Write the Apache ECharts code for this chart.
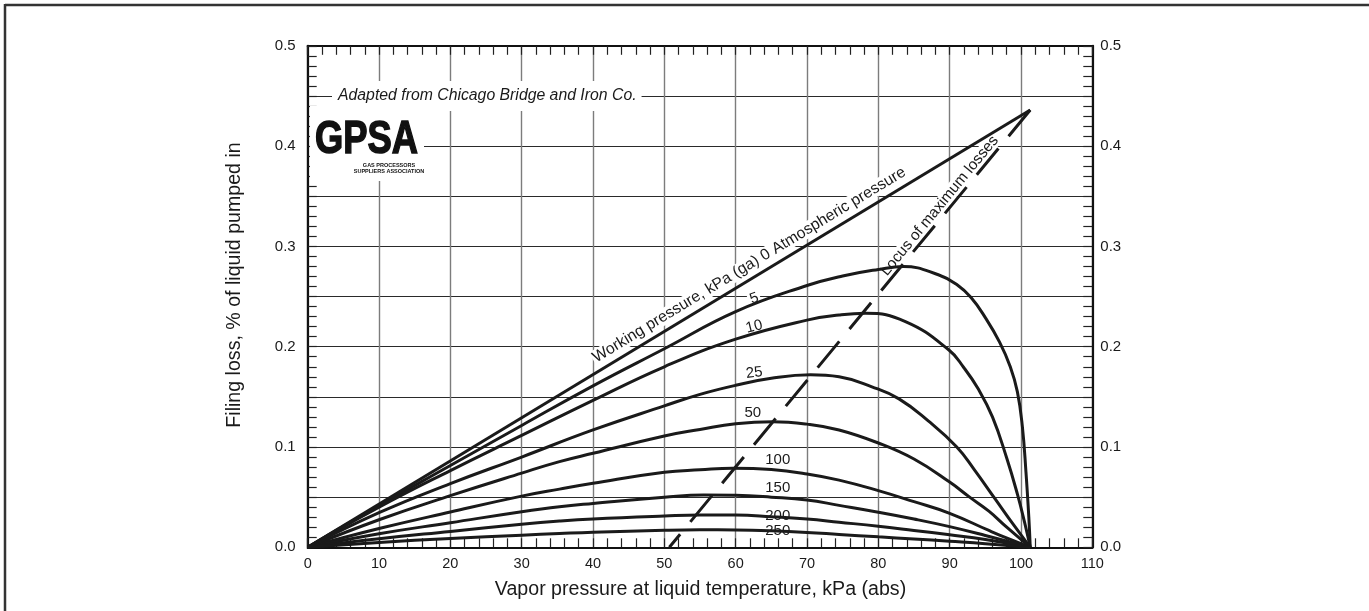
<!DOCTYPE html>
<html><head><meta charset="utf-8">
<script src="https://cdn.jsdelivr.net/npm/echarts@6/dist/echarts.min.js"></script>
<style>html,body{margin:0;padding:0;background:#fff}#c{width:1369px;height:611px}</style>
</head><body><div id="c"></div>
<script>
// ---- data ----
const atmospheric = [[0,0],[101.3,0.436]];
const locus = [[50.7,0],[101.3,0.436]];
const curve5 = [[0,0],[10,0.0415],[20,0.0815],[30,0.1215],[40,0.161],[50,0.198],[60,0.235],[70,0.261],[75,0.2705],[80,0.277],[83.5,0.280],[88.5,0.2715],[91,0.262],[93,0.249],[95,0.229],[97,0.2045],[98.5,0.180],[99.5,0.155],[100.2,0.120],[100.7,0.075],[101.1,0.030],[101.3,0]];
const curve10 = [[0,0],[10,0.040],[20,0.0765],[30,0.1115],[40,0.1465],[50,0.180],[60,0.2075],[70,0.2265],[74.5,0.2315],[78.2,0.2333],[83.8,0.225],[89.9,0.1967],[92,0.179],[94,0.158],[96,0.130],[98,0.089],[99.5,0.053],[100.5,0.025],[101.3,0]];
const curve25 = [[0,0],[10,0.0345],[20,0.0635],[30,0.090],[40,0.117],[50,0.141],[55,0.1525],[60,0.1615],[65,0.1685],[70.5,0.172],[74.5,0.170],[79.1,0.160],[82.9,0.148],[87,0.126],[91.0,0.100],[93.5,0.077],[96.4,0.048],[99.0,0.022],[101.3,0]];
const curve50 = [[0,0],[10,0.0275],[20,0.0515],[30,0.0740],[35.3,0.0854],[40,0.0937],[50,0.111],[55,0.1175],[60,0.1232],[65.2,0.1252],[70,0.1228],[74.5,0.117],[80,0.104],[85,0.088],[90,0.065],[92.8,0.050],[95.5,0.036],[98,0.020],[101.3,0]];
const curve100 = [[0,0],[10,0.0187],[20,0.0352],[30,0.051],[35.3,0.058],[40,0.0638],[50,0.0748],[55,0.0772],[59.6,0.0788],[65,0.0775],[70,0.0731],[74.5,0.067],[80,0.0565],[85,0.0455],[90,0.0339],[95.5,0.0168],[98.5,0.0078],[101.3,0]];
const curve150 = [[0,0],[10,0.0135],[20,0.0245],[30,0.0355],[35.3,0.0405],[40,0.0437],[50,0.0498],[55.5,0.0521],[60,0.0518],[65,0.050],[70,0.0472],[74.5,0.0418],[80,0.0350],[85,0.0282],[90,0.0206],[95,0.0118],[101.3,0]];
const curve200 = [[0,0],[10,0.0085],[20,0.0158],[30,0.023],[35.3,0.0262],[40,0.0283],[50,0.0312],[55,0.0322],[60,0.0321],[65,0.0305],[70,0.0282],[74.5,0.0250],[80,0.0210],[85,0.0168],[90,0.0125],[95,0.0078],[101.3,0]];
const curve250 = [[0,0],[10,0.0048],[20,0.0088],[30,0.0121],[35.3,0.0137],[40,0.0150],[50,0.0170],[55,0.0175],[60,0.0173],[65,0.0164],[70,0.0148],[74.5,0.0128],[80,0.0104],[85,0.0083],[90,0.0060],[95,0.0036],[101.3,0]];
const pressureNames = ['5','10','25','50','100','150','200','250'];
const xLabelValues = [0,10,20,30,40,50,60,70,80,90,100,110];
const yLabelValues = ['0.0','0.1','0.2','0.3','0.4','0.5'];

// ---- layout of annotations (data coordinates) ----
const curves = [curve5, curve10, curve25, curve50, curve100, curve150, curve200, curve250];
const labelSpots = [[62.6,0.2481,20],[62.6,0.2199,14],[62.6,0.1740,7],[62.4,0.1336,0],[65.9,0.0870,0],[65.9,0.0588,0],[65.9,0.0312,0],[65.9,0.0166,0]];

const FONT = 'Liberation Sans';
const INK = '#1a1a1a';
const chart = echarts.init(document.getElementById('c'), null, {renderer:'canvas'});

function mp(text, coord, rot, extra){
  return {
    symbol:'rect', symbolSize:1, silent:true, itemStyle:{color:'rgba(0,0,0,0)'},
    animation:false,
    data:[{coord:coord, value:0, label:Object.assign({show:true, position:'inside', formatter:text, rotate:rot,
      color:INK, fontSize:15, lineHeight:14, fontFamily:FONT, backgroundColor:'#fff', padding:[0,2]}, extra||{})}]
  };
}

const series = [];
series.push({type:'line', name:'0', data:atmospheric, showSymbol:false, symbol:'none',
  lineStyle:{color:INK, width:3}, z:5,
  markPoint: mp('Working pressure, kPa (ga) 0 Atmospheric pressure', [61.9,0.2815], 31.2, {fontSize:15.8, lineHeight:16, padding:[0,1]})});
curves.forEach((c,i)=>{
  const s = labelSpots[i];
  series.push({type:'line', name:pressureNames[i], data:c, showSymbol:false, symbol:'none',
    smooth:0.45,
    lineStyle:{color:INK, width:3}, z:5,
    markPoint: mp(pressureNames[i], [s[0], s[1]], s[2])});
});
series.push({type:'line', name:'locus', data:locus, showSymbol:false, symbol:'none',
  lineStyle:{color:INK, width:3, type:[34,16], dashOffset:17}, z:5,
  markPoint: mp('Locus of maximum losses', [88.6,0.3405], 50.6, {fontSize:15.3, lineHeight:15, padding:[0,1]})});

const tickCommon = {show:true, inside:true, length:9, lineStyle:{color:'#222', width:1.2}};
const yLabelFmt = v => { const t = Math.round(v*100); return (t % 10 === 0) ? yLabelValues[t/10] : ''; };
const xLabelFmt = v => xLabelValues.indexOf(Math.round(v)) >= 0 ? String(Math.round(v)) : '';

const option = {
  animation:false,
  backgroundColor:'#fff',
  grid:{left:307.7, right:276.7, top:45.8, bottom:63.7, containLabel:false},
  xAxis:[
    {type:'value', min:0, max:110, interval:10, position:'bottom',
     axisLine:{show:true, onZero:false, lineStyle:{color:'#111', width:2.2}},
     axisTick:tickCommon,
     minorTick:{show:true, splitNumber:5, length:9, lineStyle:{color:'#222', width:1.2}},
     axisLabel:{margin:9, color:INK, fontSize:14.5, fontFamily:FONT, formatter:xLabelFmt},
     splitLine:{show:true, lineStyle:{color:'#7c7c7c', width:1.4}}},
    {type:'value', min:0, max:110, interval:10, position:'top',
     axisLine:{show:true, onZero:false, lineStyle:{color:'#111', width:2.2}},
     axisTick:tickCommon,
     minorTick:{show:true, splitNumber:5, length:9, lineStyle:{color:'#222', width:1.2}},
     axisLabel:{show:false}, splitLine:{show:false}}
  ],
  yAxis:[
    {type:'value', min:0, max:0.5, interval:0.05, position:'left',
     axisLine:{show:true, onZero:false, lineStyle:{color:'#111', width:2.2}},
     axisTick:tickCommon,
     minorTick:{show:true, splitNumber:5, length:9, lineStyle:{color:'#222', width:1.2}},
     axisLabel:{margin:12, color:INK, fontSize:15, fontFamily:FONT, formatter:yLabelFmt},
     splitLine:{show:true, lineStyle:{color:'#2a2a2a', width:1.1}}},
    {type:'value', min:0, max:0.5, interval:0.05, position:'right',
     axisLine:{show:true, onZero:false, lineStyle:{color:'#111', width:2.2}},
     axisTick:tickCommon,
     minorTick:{show:true, splitNumber:5, length:9, lineStyle:{color:'#222', width:1.2}},
     axisLabel:{margin:8, color:INK, fontSize:15, fontFamily:FONT, formatter:yLabelFmt},
     splitLine:{show:false}}
  ],
  series:series,
  graphic:[
    {type:'line', z:100, shape:{x1:5, y1:5, x2:1369, y2:5}, style:{stroke:'#333', lineWidth:2.5}},
    {type:'line', z:100, shape:{x1:5, y1:4, x2:5, y2:611}, style:{stroke:'#333', lineWidth:2.5}},
    {type:'text', z:100, x:700.5, y:590, style:{text:'Vapor pressure at liquid temperature, kPa (abs)', align:'center', verticalAlign:'middle',
      font:'19.6px "Liberation Sans"', fill:INK}},
    {type:'text', z:100, x:235, y:285, rotation:Math.PI/2, style:{text:'Filing loss, % of liquid pumped in', align:'center', verticalAlign:'middle',
      font:'19.6px "Liberation Sans"', fill:INK}},
    {type:'text', z:100, style:{text:'Adapted from Chicago Bridge and Iron Co.', x:332, y:96, verticalAlign:'middle',
      font:'italic 15.8px "Liberation Sans"', fill:INK, backgroundColor:'#fff', padding:[7,5,7,6]}},
    {type:'rect', z:100, shape:{x:310, y:106, width:114, height:75}, style:{fill:'#fff'}},
    {type:'text', z:101, x:315, y:117, scaleX:0.79, style:{text:'GPSA', x:0, y:0,
      font:'900 46px "Liberation Sans"', fill:'#111', stroke:'#111', lineWidth:1.5}},
    {type:'text', z:101, style:{text:'GAS PROCESSORS\nSUPPLIERS ASSOCIATION', x:389, y:162, align:'center',
      font:'bold 5.5px "Liberation Sans"', fill:'#111', lineHeight:6}}
  ]
};
chart.setOption(option);
</script></body></html>
